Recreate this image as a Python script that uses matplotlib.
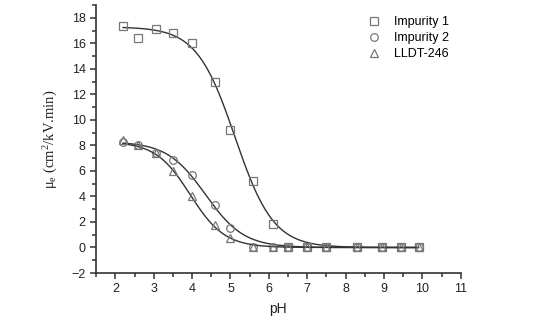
import matplotlib
matplotlib.use("Agg")
import matplotlib.pyplot as plt
import numpy as np
from matplotlib.ticker import MultipleLocator

plt.rcParams['font.family'] = ['Liberation Sans', 'DejaVu Sans']

# pH values of the measurements
ph = np.array([2.2, 2.6, 3.05, 3.5, 4.0, 4.6, 5.0, 5.6, 6.1, 6.5, 7.0, 7.5, 8.3, 8.95, 9.45, 9.9])

# mobility values
imp1 = np.array([17.4, 16.45, 17.15, 16.85, 16.0, 12.95, 9.2, 5.2, 1.85, 0, 0, 0, 0, 0, 0, 0])
imp2 = np.array([8.3, 8.0, 7.4, 6.9, 5.7, 3.3, 1.55, 0.0, 0, 0, 0, 0, 0, 0, 0, 0])
lldt = np.array([8.4, 8.05, 7.4, 6.0, 4.05, 1.75, 0.75, 0.05, 0, 0, 0, 0, 0, 0, 0, 0])

# Boltzmann fit parameters (A1, A2, x0, dx) for the solid lines
fit1 = (17.3, 0.0, 5.12, 0.50)
fit2 = (8.3, 0.0, 4.35, 0.50)
fit3 = (8.3, 0.0, 3.95, 0.45)

labels = ['Impurity 1', 'Impurity 2', 'LLDT-246']


def boltzmann(x, a1, a2, x0, dx):
    return a2 + (a1 - a2) / (1 + np.exp((x - x0) / dx))


fig = plt.figure(figsize=(5.37, 3.36), dpi=100)
ax = fig.add_axes([0.179, 0.1875, 0.679, 0.797])

xs = np.linspace(ph[0], ph[-1], 300)
mk = dict(linestyle='none', markerfacecolor='none', markeredgecolor='#777777',
          markersize=5.5, markeredgewidth=0.9)
for y, fit, m, lab in zip([imp1, imp2, lldt], [fit1, fit2, fit3], ['s', 'o', '^'], labels):
    ax.plot(xs, boltzmann(xs, *fit), color='#333333', lw=1.0)
    ax.plot(ph, y, marker=m, label=lab, **mk)

ax.set_xlim(1.5, 11)
ax.set_ylim(-2, 19)
ax.set_xticks(np.arange(2, 12, 1))
ax.set_yticks(np.arange(-2, 20, 2))
ax.xaxis.set_minor_locator(MultipleLocator(0.5))
ax.yaxis.set_minor_locator(MultipleLocator(1))
ax.spines['top'].set_visible(False)
ax.spines['right'].set_visible(False)
for s in ['left', 'bottom']:
    ax.spines[s].set_color('#333333')
    ax.spines[s].set_linewidth(1.2)
ax.tick_params(which='major', direction='out', length=4, width=1.1, colors='#333333',
               labelsize=9, labelcolor='#222222')
ax.tick_params(which='minor', direction='out', length=3, width=1.1, colors='#333333')

ax.set_xlabel('pH', fontsize=10, color='#222222', labelpad=5)
ax.set_ylabel(r'$\mathregular{\mu_e}$ (cm$\mathregular{^2}$/kV.min)', fontsize=10.5,
              family='Liberation Serif', color='#222222', labelpad=8)

ax.legend(loc='upper right', bbox_to_anchor=(1.0, 1.0), frameon=False, fontsize=9,
          handlelength=0.8, handletextpad=1.2, labelspacing=0.3)

fig.savefig('out.png', dpi=100)
